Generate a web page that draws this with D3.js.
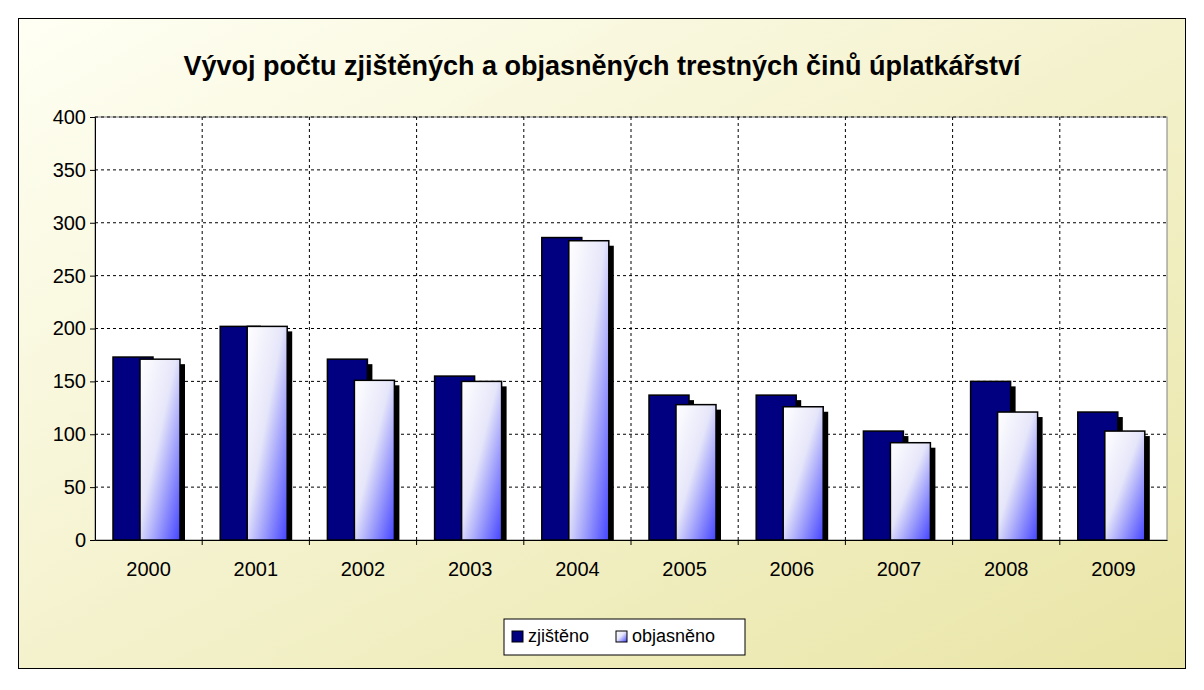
<!DOCTYPE html>
<html><head><meta charset="utf-8">
<script src="https://cdn.jsdelivr.net/npm/d3@7"></script>
<style>body{margin:0;background:#fff}text{font-family:Arial,"Liberation Sans",sans-serif}</style>
</head><body><svg id="c" width="1204" height="690"></svg>
<script>
const years = ["2000","2001","2002","2003","2004","2005","2006","2007","2008","2009"];
const zjisteno = [173, 202, 171, 155, 286, 137, 137, 103, 150, 121];
const objasneno = [171, 202, 151, 150, 283, 128, 126, 92, 121, 103];
const yTicks = [0, 50, 100, 150, 200, 250, 300, 350, 400];

const svg = d3.select("#c");
const defs = svg.append("defs");
const bg = defs.append("linearGradient").attr("id", "bg").attr("x1", 0).attr("y1", 0).attr("x2", 1).attr("y2", 1);
bg.append("stop").attr("offset", 0).attr("stop-color", "#fffff4");
bg.append("stop").attr("offset", 1).attr("stop-color", "#e9e5a6");
const lg = defs.append("linearGradient").attr("id", "lb").attr("x1", 0).attr("y1", 0).attr("x2", 1).attr("y2", 1);
lg.append("stop").attr("offset", 0).attr("stop-color", "#ffffff");
lg.append("stop").attr("offset", 0.45).attr("stop-color", "#e6e6fa");
lg.append("stop").attr("offset", 1).attr("stop-color", "#4444ff");

svg.append("rect").attr("x", 18.5).attr("y", 18.5).attr("width", 1167).attr("height", 650)
  .attr("fill", "url(#bg)").attr("stroke", "#000");

svg.append("text").attr("x", 602).attr("y", 75).attr("text-anchor", "middle")
  .attr("font-size", 27).attr("font-weight", "bold")
  .text("Vývoj počtu zjištěných a objasněných trestných činů úplatkářství");

const pl = 95, pr = 1167, pt = 117, pb = 540;
const x = d3.scaleBand().domain(years).range([pl, pr]);
const y = d3.scaleLinear().domain([0, 400]).range([pb, pt]);

svg.append("rect").attr("x", pl).attr("y", pt).attr("width", pr - pl).attr("height", pb - pt)
  .attr("fill", "#fff").attr("stroke", "#808080");

const grid = svg.append("g").attr("stroke", "#000").attr("stroke-dasharray", "3,3");
yTicks.slice(1).forEach(t => grid.append("line").attr("x1", pl).attr("x2", pr).attr("y1", y(t)).attr("y2", y(t)));
years.slice(1).forEach(d => grid.append("line").attr("x1", x(d)).attr("x2", x(d)).attr("y1", pt).attr("y2", pb));

const bw = 40, sh = 5;
const drawBars = (vals, off, fill) => {
  const g = svg.append("g");
  g.selectAll(".s").data(years).join("rect")
    .attr("x", d => x(d) + off + sh).attr("y", (d, i) => y(vals[i]) + sh)
    .attr("width", bw).attr("height", (d, i) => pb - y(vals[i]) - sh).attr("fill", "#000");
  g.selectAll(".b").data(years).join("rect")
    .attr("x", d => x(d) + off).attr("y", (d, i) => y(vals[i]))
    .attr("width", bw).attr("height", (d, i) => pb - y(vals[i]))
    .attr("fill", fill).attr("stroke", "#000").attr("stroke-width", 1.5);
};
drawBars(zjisteno, 18, "#000080");
drawBars(objasneno, 45, "url(#lb)");

svg.append("g").attr("transform", `translate(${pl},0)`)
  .call(d3.axisLeft(y).tickValues(yTicks).tickSize(5).tickPadding(4))
  .call(g => g.selectAll("text").attr("font-size", 20).attr("fill", "#000"))
  .call(g => g.selectAll("line,path").attr("stroke", "#000"));
svg.append("g").attr("transform", `translate(0,${pb})`)
  .call(d3.axisBottom(x).tickSize(0).tickPadding(22))
  .call(g => g.selectAll("text").attr("font-size", 20).attr("fill", "#000"))
  .call(g => g.select("path").attr("stroke", "#000"));
svg.append("g").attr("stroke", "#000").selectAll("line").data(years.slice(1)).join("line")
  .attr("x1", d => x(d)).attr("x2", d => x(d)).attr("y1", pb).attr("y2", pb + 5);

const leg = svg.append("g").attr("transform", "translate(504,619)");
leg.append("rect").attr("width", 241).attr("height", 36).attr("fill", "#fff").attr("stroke", "#000");
[["zjištěno", "#000080", 8], ["objasněno", "url(#lb)", 112]].forEach(([t, c, lx]) => {
  leg.append("rect").attr("x", lx).attr("y", 12).attr("width", 11).attr("height", 11).attr("fill", c).attr("stroke", "#000");
  leg.append("text").attr("x", lx + 16).attr("y", 23).attr("font-size", 18).text(t);
});
</script></body></html>
